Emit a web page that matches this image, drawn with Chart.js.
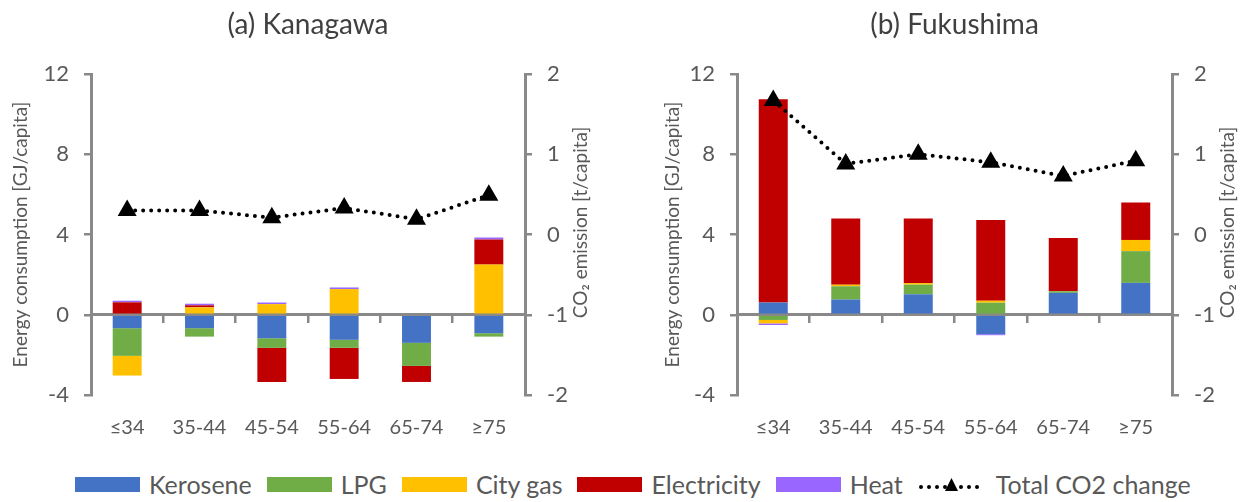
<!DOCTYPE html>
<html>
<head>
<meta charset="utf-8">
<script src="https://cdn.jsdelivr.net/npm/chart.js@4.4.1/dist/chart.umd.min.js"></script>
<style>
  body { margin: 0; background: #fff; font-family: Lato, sans-serif; }
  #wrap { position: relative; width: 1247px; height: 502px; overflow: hidden; }
  #left { position: absolute; left: 0; top: 0; }
  #right { position: absolute; left: 623px; top: 0; }
  #legend { position: absolute; left: 75px; top: 469px; display: flex; align-items: center; color: #595959; font-size: 25px; }
  .item { display: flex; align-items: center; margin-right: 15px; }
  .box { width: 65px; height: 15px; margin-right: 9px; }
</style>
</head>
<body>
<div id="wrap">
  <canvas id="left" width="623" height="450"></canvas>
  <canvas id="right" width="624" height="450"></canvas>
  <div id="legend"></div>
</div>
<script>
// age groups on the x axis
const ageGroups = ["≤34", "35-44", "45-54", "55-64", "65-74", "≥75"];

const fuelNames = ["Kerosene", "LPG", "City gas", "Electricity", "Heat"];
const fuelColors = ["#4472c4", "#70ad47", "#ffc000", "#c00000", "#9966ff"];

// (a) Kanagawa, change in energy use [GJ/capita]
const kanaKerosene = [-0.67, -0.67, -1.17, -1.25, -1.4, -0.92];
const kanaLpg = [-1.38, -0.42, -0.48, -0.4, -1.15, -0.17];
const kanaCityGas = [-0.98, 0.37, 0.53, 1.28, 0, 2.5];
const kanaElectricity = [0.62, 0.1, -1.7, -1.55, -0.8, 1.25];
const kanaHeat = [0.08, 0.08, 0.08, 0.08, 0, 0.1];
const kanaCo2 = [0.3, 0.3, 0.21, 0.33, 0.19, 0.49];

// (b) Fukushima
const fukuKerosene = [0.61, 0.76, 1.02, -0.97, 1.09, 1.59];
const fukuLpg = [-0.26, 0.66, 0.48, 0.6, 0.08, 1.58];
const fukuCityGas = [-0.17, 0.08, 0.08, 0.1, 0, 0.56];
const fukuElectricity = [10.13, 3.3, 3.22, 4.02, 2.65, 1.87];
const fukuHeat = [-0.08, 0, 0, -0.05, 0, 0];
const fukuCo2 = [1.67, 0.88, 1.0, 0.9, 0.73, 0.92];

const energyTicks = { min: -4, max: 12, step: 4 };
const co2Ticks = { min: -2, max: 2, step: 1 };

const axisGrey = "#898989";
const textGrey = "#595959";

Chart.defaults.font.family = "Lato, 'Open Sans', sans-serif";

// Chart.js rotates right-hand titles the other way, so this one is drawn by hand
const rightAxisTitle = {
  id: "rightAxisTitle",
  afterDraw(chart, args, opts) {
    const s = chart.scales.y1;
    const area = chart.chartArea;
    const ctx = chart.ctx;
    ctx.save();
    ctx.translate(s.left + opts.offset, (area.top + area.bottom) / 2 - 12);
    ctx.rotate(-Math.PI / 2);
    ctx.font = "19px Lato, sans-serif";
    ctx.fillStyle = textGrey;
    ctx.textAlign = "center";
    ctx.textBaseline = "middle";
    ctx.fillText("CO₂ emission [t/capita]", 0, 0);
    ctx.restore();
  },
};

const makeChart = (id, titleText, fuels, co2, sz) => {
  const datasets = fuels.map((vals, i) => ({
    label: fuelNames[i],
    data: vals,
    backgroundColor: fuelColors[i],
    stack: "energy",
    yAxisID: "y",
    xAxisID: "x",
    barPercentage: 0.4,
    categoryPercentage: 1,
    order: 2,
  }));
  datasets.push({
    type: "line",
    label: "Total CO2 change",
    data: co2,
    yAxisID: "y1",
    xAxisID: "x",
    borderColor: "#000",
    borderWidth: 4,
    borderDash: [0, 8],
    borderCapStyle: "round",
    pointStyle: "triangle",
    pointRadius: 7,
    pointBackgroundColor: "#000",
    pointBorderColor: "#000",
    fill: false,
    tension: 0,
    order: 1,
  });

  const yGrid = {
    drawOnChartArea: false,
    drawTicks: true,
    tickLength: 7,
    color: axisGrey,
    lineWidth: 2.5,
  };

  return new Chart(document.getElementById(id), {
    type: "bar",
    data: { labels: ageGroups, datasets },
    plugins: [rightAxisTitle],
    options: {
      responsive: false,
      animation: false,
      layout: { padding: 0 },
      plugins: {
        legend: { display: false },
        tooltip: { enabled: false },
        title: {
          display: true,
          text: titleText,
          color: "#404040",
          fullSize: false,
          font: { size: 28, weight: "normal" },
          padding: { top: 8, bottom: 32.4 },
        },
        rightAxisTitle: { offset: sz.rightTitle },
      },
      scales: {
        x: {
          type: "category",
          position: { y: 0 },
          stacked: true,
          offset: true,
          grid: {
            offset: true,
            drawOnChartArea: false,
            drawTicks: true,
            tickLength: 7,
            color: axisGrey,
            lineWidth: 2.5,
          },
          border: { color: axisGrey, width: 3 },
          ticks: { display: false },
        },
        x2: {
          type: "category",
          position: "bottom",
          offset: true,
          grid: { display: false, drawTicks: false },
          border: { display: false },
          ticks: { padding: 21, color: textGrey, font: { size: 20 } },
          afterFit: (s) => {
            s.height = 55;
          },
        },
        y: {
          type: "linear",
          position: "left",
          stacked: true,
          min: energyTicks.min,
          max: energyTicks.max,
          ticks: { stepSize: energyTicks.step, color: textGrey, font: { size: 22 }, padding: 15 },
          grid: yGrid,
          border: { color: axisGrey, width: 3 },
          title: {
            display: true,
            text: "Energy consumption [GJ/capita]",
            color: textGrey,
            font: { size: 19 },
            padding: { top: sz.leftTitle },
          },
          afterFit: (s) => {
            s.width = sz.left;
          },
        },
        y1: {
          type: "linear",
          position: "right",
          min: co2Ticks.min,
          max: co2Ticks.max,
          ticks: { stepSize: co2Ticks.step, color: textGrey, font: { size: 22 }, padding: 15 },
          grid: yGrid,
          border: { color: axisGrey, width: 3 },
          afterFit: (s) => {
            s.width = sz.right;
          },
        },
      },
    },
  });
};

makeChart(
  "left",
  "(a) Kanagawa",
  [kanaKerosene, kanaLpg, kanaCityGas, kanaElectricity, kanaHeat],
  kanaCo2,
  { left: 91, right: 98, leftTitle: 9, rightTitle: 56 }
);
makeChart(
  "right",
  "(b) Fukushima",
  [fukuKerosene, fukuLpg, fukuCityGas, fukuElectricity, fukuHeat],
  fukuCo2,
  { left: 114, right: 75, leftTitle: 38, rightTitle: 56 }
);

// shared legend underneath both panels
const legend = document.getElementById("legend");
fuelNames.forEach((name, i) => {
  const item = document.createElement("div");
  item.className = "item";
  item.innerHTML = `<div class="box" style="background:${fuelColors[i]}"></div><span>${name}</span>`;
  legend.appendChild(item);
});
const lineItem = document.createElement("div");
lineItem.className = "item";
lineItem.innerHTML =
  '<svg width="67" height="20" style="margin-right:11px">' +
  '<line x1="3" y1="13" x2="64" y2="13" stroke="#000" stroke-width="4" stroke-linecap="round" stroke-dasharray="0 8"/>' +
  '<polygon points="33.5,4 40,17 27,17" fill="#000"/></svg><span>Total CO2 change</span>';
legend.appendChild(lineItem);
</script>
</body>
</html>
